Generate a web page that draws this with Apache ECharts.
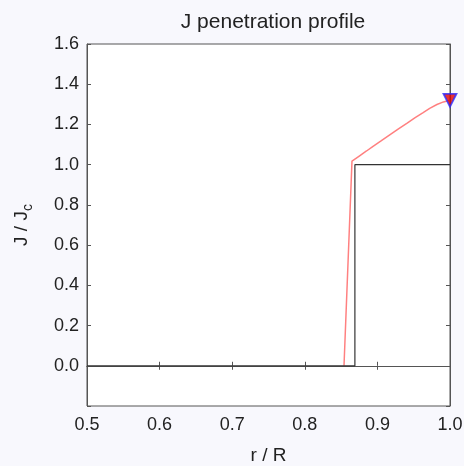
<!DOCTYPE html>
<html><head><meta charset="utf-8">
<script src="https://cdn.jsdelivr.net/npm/echarts@6/dist/echarts.min.js"></script>
<style>html,body{margin:0;padding:0;background:#f8f8fd;}#c{width:464px;height:466px;}</style>
</head><body><div id="c"></div>
<script>
const blackR = [0.5, 0.869, 0.869, 1.0];
const blackJ = [0.0, 0.0, 1.0, 1.0];
const redR = [0.854, 0.865, 0.875, 0.885, 0.894, 0.905, 0.917, 0.929, 0.941, 0.952, 0.963, 0.972, 0.982, 0.991, 1.0];
const redJ = [0.0, 1.018, 1.043, 1.068, 1.091, 1.118, 1.148, 1.178, 1.207, 1.234, 1.259, 1.280, 1.299, 1.312, 1.320];
const markerPt = [1.0, 1.320];
const xTicks = [0.5, 0.6, 0.7, 0.8, 0.9, 1.0];
const yTicks = [0.0, 0.2, 0.4, 0.6, 0.8, 1.0, 1.2, 1.4, 1.6];

const chart = echarts.init(document.getElementById('c'));
const font = 'Liberation Sans, Arial, sans-serif';
const axisCommon = {
  axisLine: {lineStyle: {color: '#555', width: 1}},
  axisTick: {inside: true, length: 4, lineStyle: {color: '#555'}},
  splitLine: {show: false}
};
chart.setOption({
  backgroundColor: '#f8f8fd',
  animation: false,
  title: {text: 'J penetration profile', left: 268, top: 7, textAlign: 'center',
    textStyle: {fontFamily: font, fontWeight: 'normal', fontSize: 21, color: '#222'}},
  grid: {left: 87, right: 14, top: 44, bottom: 60, containLabel: false, outerBoundsMode: 'none',
    show: true, backgroundColor: '#fff', borderColor: '#555', borderWidth: 1},
  xAxis: [
    Object.assign({type: 'value', min: 0.5, max: 1.0, interval: 0.1, position: 'bottom',
      name: 'r / R', nameLocation: 'middle', nameGap: 40,
      nameTextStyle: {fontFamily: font, fontSize: 19, color: '#222'},
      axisLabel: {fontFamily: font, fontSize: 18, color: '#222', margin: 10, formatter: v => v.toFixed(1)}}, axisCommon),
    Object.assign({type: 'value', min: 0.5, max: 1.0, interval: 0.1, position: 'top', axisLabel: {show: false}}, axisCommon)
  ],
  yAxis: [
    Object.assign({type: 'value', min: -0.2, max: 1.6, interval: 0.2, position: 'left',
      name: '{a|J / J}{s|c}', nameLocation: 'middle', nameGap: 52, nameRotate: 90,
      nameTextStyle: {rich: {a: {fontFamily: font, fontSize: 19, color: '#222'}, s: {fontFamily: font, fontSize: 14, color: '#222', padding: [12, 0, 0, 0]}}},
      axisLabel: {fontFamily: font, fontSize: 18, color: '#222', margin: 8,
        formatter: v => (v < -0.01 ? '' : v.toFixed(1))}}, axisCommon),
    Object.assign({type: 'value', min: -0.2, max: 1.6, interval: 0.2, position: 'right', axisLabel: {show: false}}, axisCommon)
  ],
  series: [
    {type: 'line', data: redR.map((r, i) => [r, redJ[i]]), symbol: 'none',
      lineStyle: {color: '#ff8080', width: 1.5}, z: 2},
    {type: 'line', data: blackR.map((r, i) => [r, blackJ[i]]), symbol: 'none',
      lineStyle: {color: '#333', width: 1.2}, z: 3},
    {type: 'scatter', data: [markerPt], symbol: 'triangle', symbolRotate: 180, symbolSize: 13,
      itemStyle: {color: '#e00000', borderColor: '#2a2aff', borderWidth: 1.8}, z: 5}
  ]
});
</script></body></html>
